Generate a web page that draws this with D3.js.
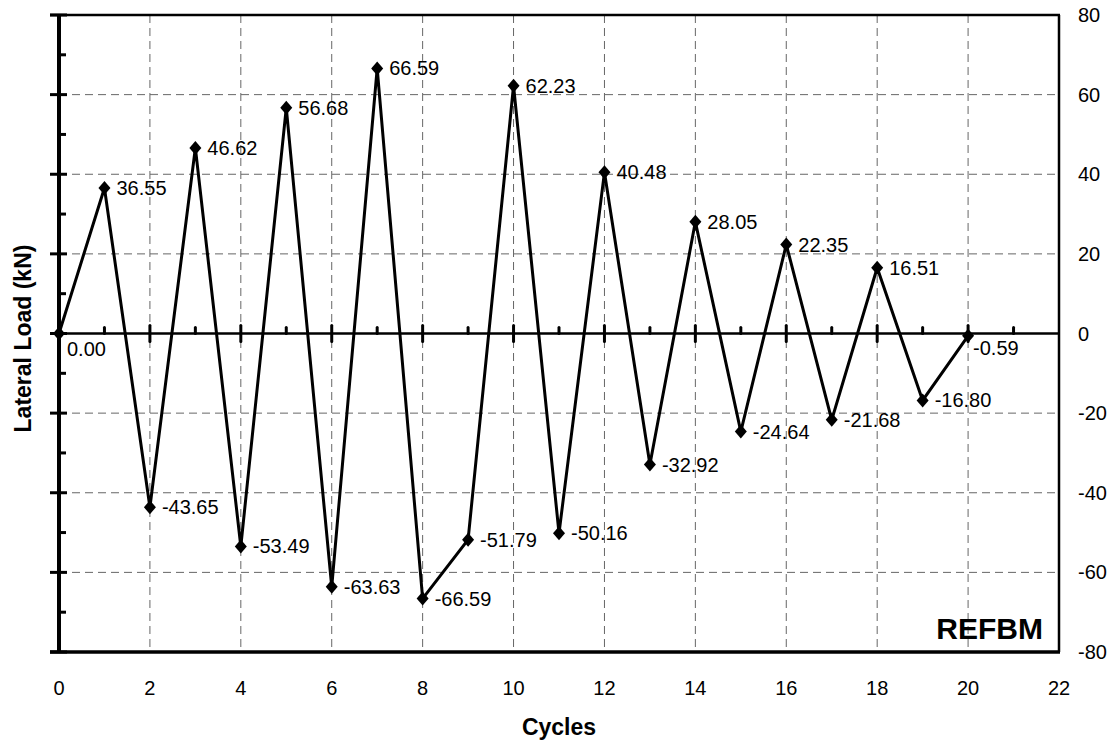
<!DOCTYPE html>
<html>
<head>
<meta charset="utf-8">
<script src="https://cdn.jsdelivr.net/npm/d3@7"></script>
<style>
  html, body { margin: 0; padding: 0; background: #fff; }
  svg { display: block; font-family: "Liberation Sans", Arial, sans-serif; }
</style>
</head>
<body>
<svg id="chart" width="1120" height="746"></svg>
<script>
// Cyclic lateral load history for specimen REFBM
const cycles = [0, 1, 2, 3, 4, 5, 6, 7, 8, 9, 10, 11, 12, 13, 14, 15, 16, 17, 18, 19, 20];
const loads = [0.00, 36.55, -43.65, 46.62, -53.49, 56.68, -63.63, 66.59, -66.59, -51.79,
               62.23, -50.16, 40.48, -32.92, 28.05, -24.64, 22.35, -21.68, 16.51, -16.80, -0.59];
const xTicks = [0, 2, 4, 6, 8, 10, 12, 14, 16, 18, 20, 22];
const xMinorTicks = [1, 3, 5, 7, 9, 11, 13, 15, 17, 19, 21];
const yTicks = [-80, -60, -40, -20, 0, 20, 40, 60, 80];
const yMinorTicks = [-70, -50, -30, -10, 10, 30, 50, 70];
const specimen = "REFBM";

const svg = d3.select("#chart");
const plotL = 59, plotR = 1059, plotT = 15, plotB = 652;

const x = d3.scaleLinear().domain([0, 22]).range([plotL, plotR]);
const y = d3.scaleLinear().domain([-80, 80]).range([plotB, plotT]);

const gridColor = "#666";

// dashed grid
svg.append("g").selectAll("line")
  .data(xTicks.filter(d => d > 0 && d < 22))
  .join("line")
  .attr("x1", d => x(d)).attr("x2", d => x(d))
  .attr("y1", plotT).attr("y2", plotB)
  .attr("stroke", gridColor).attr("stroke-width", 1)
  .attr("stroke-dasharray", "8,5");

svg.append("g").selectAll("line")
  .data(yTicks.filter(d => d !== 0 && Math.abs(d) < 80))
  .join("line")
  .attr("x1", plotL).attr("x2", plotR)
  .attr("y1", d => y(d)).attr("y2", d => y(d))
  .attr("stroke", gridColor).attr("stroke-width", 1)
  .attr("stroke-dasharray", "8,5");

// frame: top and right thinner, left and bottom heavy
svg.append("line").attr("x1", plotL - 9).attr("x2", plotR + 1).attr("y1", plotT).attr("y2", plotT)
  .attr("stroke", "#000").attr("stroke-width", 2.5);
svg.append("line").attr("x1", plotR).attr("x2", plotR).attr("y1", plotT).attr("y2", plotB)
  .attr("stroke", "#000").attr("stroke-width", 2.5);
svg.append("line").attr("x1", plotL - 9).attr("x2", plotR + 1).attr("y1", plotB).attr("y2", plotB)
  .attr("stroke", "#000").attr("stroke-width", 3.5);
svg.append("line").attr("x1", plotL).attr("x2", plotL).attr("y1", plotT - 1).attr("y2", plotB + 1)
  .attr("stroke", "#000").attr("stroke-width", 4);

// left axis ticks (major cross, minor inside)
svg.append("g").selectAll("line")
  .data(yTicks)
  .join("line")
  .attr("x1", plotL - 9).attr("x2", plotL + 8)
  .attr("y1", d => y(d)).attr("y2", d => y(d))
  .attr("stroke", "#000").attr("stroke-width", 3);
svg.append("g").selectAll("line")
  .data(yMinorTicks)
  .join("line")
  .attr("x1", plotL).attr("x2", plotL + 7)
  .attr("y1", d => y(d)).attr("y2", d => y(d))
  .attr("stroke", "#000").attr("stroke-width", 3);

// zero line acting as the x axis
svg.append("line").attr("x1", plotL).attr("x2", plotR).attr("y1", y(0)).attr("y2", y(0))
  .attr("stroke", "#000").attr("stroke-width", 2.5);
svg.append("g").selectAll("line")
  .data(xTicks.filter(d => d > 0 && d < 22))
  .join("line")
  .attr("x1", d => x(d)).attr("x2", d => x(d))
  .attr("y1", y(0) - 8).attr("y2", y(0) + 8)
  .attr("stroke", "#000").attr("stroke-width", 3).attr("stroke-linecap", "round");
svg.append("g").selectAll("line")
  .data(xMinorTicks)
  .join("line")
  .attr("x1", d => x(d)).attr("x2", d => x(d))
  .attr("y1", y(0) - 6).attr("y2", y(0))
  .attr("stroke", "#000").attr("stroke-width", 3).attr("stroke-linecap", "round");

// tick labels
svg.append("g").selectAll("text")
  .data(xTicks)
  .join("text")
  .attr("x", d => x(d)).attr("y", 695)
  .attr("text-anchor", "middle")
  .attr("font-size", 20)
  .text(d => d);

svg.append("g").selectAll("text")
  .data(yTicks)
  .join("text")
  .attr("x", 1078).attr("y", d => y(d))
  .attr("dominant-baseline", "central")
  .attr("font-size", 20)
  .text(d => d);

// axis titles
svg.append("text")
  .attr("x", x(11)).attr("y", 735)
  .attr("text-anchor", "middle")
  .attr("font-size", 23).attr("font-weight", "bold")
  .text("Cycles");
svg.append("text")
  .attr("transform", `translate(31,${(plotT + plotB) / 2 + 5}) rotate(-90)`)
  .attr("text-anchor", "middle")
  .attr("font-size", 23).attr("font-weight", "bold")
  .text("Lateral Load (kN)");

// specimen tag
svg.append("text")
  .attr("x", 1043).attr("y", 639)
  .attr("text-anchor", "end")
  .attr("font-size", 30).attr("font-weight", "bold")
  .text(specimen);

// load history
const pts = cycles.map((c, i) => ({ c, v: loads[i] }));
svg.append("path")
  .datum(pts)
  .attr("fill", "none")
  .attr("stroke", "#000")
  .attr("stroke-width", 3)
  .attr("stroke-linejoin", "miter")
  .attr("d", d3.line().x(d => x(d.c)).y(d => y(d.v)));

const diamond = "M0,-7L6,0L0,7L-6,0Z";
svg.append("g").selectAll("path")
  .data(pts)
  .join("path")
  .attr("transform", d => `translate(${x(d.c)},${y(d.v)})`)
  .attr("d", diamond)
  .attr("fill", "#000");

// value labels
function labelPos(d) {
  if (d.c === 0) return { dx: 8, dy: 15 };
  if (d.c === 20) return { dx: 5, dy: 12 };
  return { dx: 12, dy: 0 };
}
svg.append("g").selectAll("text")
  .data(pts)
  .join("text")
  .attr("x", d => x(d.c) + labelPos(d).dx)
  .attr("y", d => y(d.v) + labelPos(d).dy)
  .attr("dominant-baseline", "central")
  .attr("font-size", 20)
  .text(d => d.v.toFixed(2));
</script>
</body>
</html>
